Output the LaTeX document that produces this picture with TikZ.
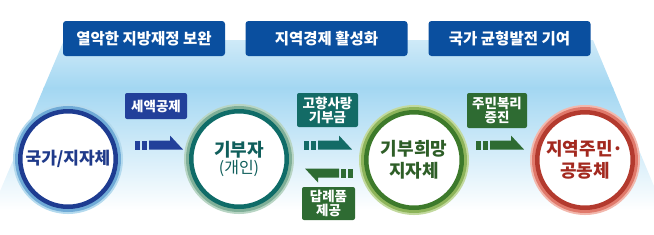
\documentclass[tikz,border=0pt]{standalone}
\usepackage{fontspec}
\setmainfont{Noto Sans CJK KR}
\definecolor{topblue}{HTML}{0A4F9F}
\definecolor{bgA}{HTML}{CFEAF8}
\definecolor{bgB}{HTML}{A3D7F2}
\definecolor{navy}{HTML}{22409A}
\definecolor{tealb}{HTML}{136B66}
\definecolor{greenb}{HTML}{2E6B32}
\definecolor{cAd}{HTML}{1E3C91}\definecolor{cAa}{HTML}{6FAAD6}\definecolor{cAb}{HTML}{B4DAEE}
\definecolor{cBd}{HTML}{0F6C68}\definecolor{cBa}{HTML}{7FAF98}\definecolor{cBb}{HTML}{B8D5C4}
\definecolor{cCd}{HTML}{3D7A2B}\definecolor{cCa}{HTML}{8DB45A}\definecolor{cCb}{HTML}{C2D99E}
\definecolor{cDd}{HTML}{B33A2E}\definecolor{cDa}{HTML}{E0796B}\definecolor{cDb}{HTML}{F2B8AD}
\definecolor{tA}{HTML}{1F3A8A}
\definecolor{tB}{HTML}{0F5E5B}
\definecolor{tC}{HTML}{2E5E27}
\definecolor{tD}{HTML}{A3291F}
\begin{document}
\begin{tikzpicture}[x=1pt,y=-1pt,
  topbox/.style={fill=topblue,rounded corners=3pt,minimum width=162pt,minimum height=35pt,
    inner sep=0pt,text=white,font=\bfseries\fontsize{15.5}{17}\selectfont},
  lbl/.style={rounded corners=2pt,inner sep=0pt,text=white,align=center,
    font=\bfseries\fontsize{13.5}{14}\selectfont},
  ring/.style n args={3}{circle,minimum size=95.5pt,inner sep=0pt,outer sep=0pt,fill=white,
    draw=#1,line width=4.5pt,
    preaction={draw=#3,line width=14.5pt},
    preaction={draw=#2,line width=10.5pt},align=center},
  pics/harrow/.style={code={
    \fill[#1] (0,-4.5) rectangle (5,4.5);
    \fill[#1] (7,-4.5) rectangle (12,4.5);
    \fill[#1] (14,-4.5) -- (35,-4.5) -- (35,-9.5) -- (48,4.5) -- (14,4.5) -- cycle;}}
]
\useasboundingbox (0,0) rectangle (654,234);
% background fan
\begin{scope}
\clip (64,40) -- (593,40) -- (664,210) -- (-8,210) -- cycle;
\shade[top color=bgA,bottom color=bgB] (-10,40) rectangle (670,88);
\shade[top color=bgB,bottom color=white] (-10,87.5) rectangle (670,210);
\end{scope}
% top boxes
\node[topbox] (g1) at (144,38.5) {열악한 지방재정 보완};
\node[topbox] (g2) at (326.5,38.5) {지역경제 활성화};
\node[topbox] (g3) at (509.5,38.5) {국가 균형발전 기여};
% circles
\node[ring={cAd}{cAa}{cAb},text=tA,font=\bfseries\fontsize{17}{20}\selectfont] (n1) at (68,159) {국가/지자체};
\node[ring={cBd}{cBa}{cBb},text=tB] (n2) at (239,159)
  {{\bfseries\fontsize{18}{18}\selectfont 기부자}\\[1pt]{\fontsize{16}{16}\selectfont (개인)}};
\node[ring={cCd}{cCa}{cCb},text=tC,font=\bfseries\fontsize{18}{22}\selectfont] (n3) at (414,160) {기부희망\\지자체};
\node[ring={cDd}{cDa}{cDb},text=tD,font=\bfseries\fontsize{18}{22}\selectfont] (n4) at (585,160) {지역주민·\\공동체};
% labels
\node[lbl,fill=navy,minimum width=62pt,minimum height=26pt] (l1) at (156,106) {세액공제};
\node[lbl,fill=tealb,minimum width=61pt,minimum height=34pt] (l2) at (327.5,110) {고향사랑\\기부금};
\node[lbl,fill=greenb,minimum width=53pt,minimum height=33pt] (l3) at (328.5,203.5) {답례품\\제공};
\node[lbl,fill=greenb,minimum width=60pt,minimum height=35pt] (l4) at (497,110.5) {주민복리\\증진};
% arrows
\pic at (135,145) {harrow=navy};
\pic at (304,145) {harrow=tealb};
\pic[rotate=180] at (353,173) {harrow=greenb};
\pic at (476,145) {harrow=greenb};
\end{tikzpicture}
\end{document}
